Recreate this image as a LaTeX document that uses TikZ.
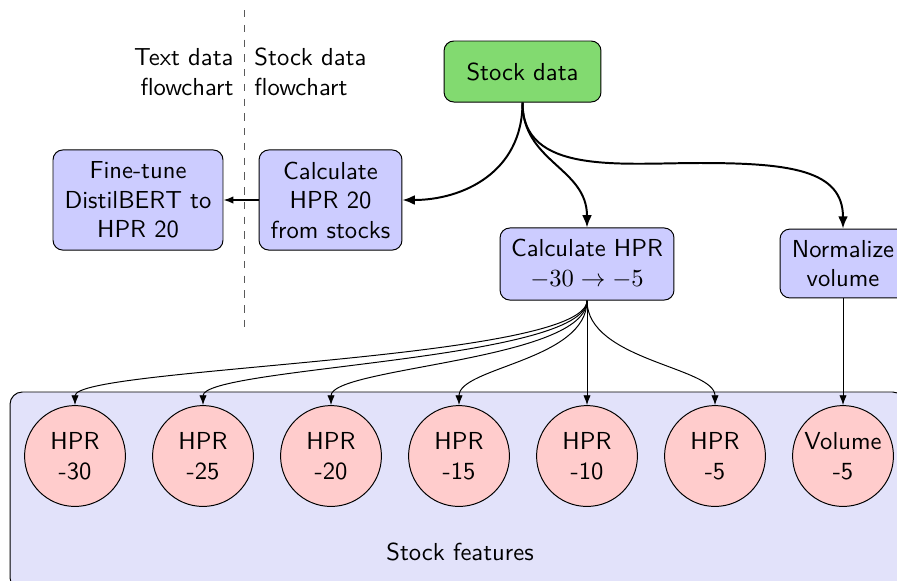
\documentclass[tikz,border=0pt]{standalone}
\usetikzlibrary{arrows.meta}
\renewcommand{\familydefault}{\sfdefault}
\definecolor{stockgreen}{RGB}{130,218,112}
\definecolor{boxblue}{RGB}{204,204,255}
\definecolor{bgblue}{RGB}{226,226,250}
\definecolor{circred}{RGB}{255,204,204}
\begin{document}
\begin{tikzpicture}[x=0.4065pt,y=-0.4065pt,
  procbox/.style={draw, rounded corners=4pt, fill=boxblue, align=center, inner sep=0pt},
  feat/.style={draw, circle, fill=circred, minimum size=41pt, inner sep=0pt, align=center},
  bigarrow/.style={-{Latex[length=5pt,width=4pt]}, thick},
  smallarrow/.style={-{Latex[length=4pt,width=3pt]}},
  lbl/.style={inner sep=0pt, font=\sffamily}]
\useasboundingbox (0,0) rectangle (897,580);
% background
\node[draw, rounded corners=5pt, fill=bgblue, minimum width=363.8pt, minimum height=80.5pt, inner sep=0pt] (bg) at (457.5,491) {};
\node[lbl] (sf) at (460,552) {Stock features};
% dashed divider
\coordinate (dtop) at (244,10);
\coordinate (dbot) at (244,328);
\draw[dashed, gray!70!black] (dtop) -- (dbot);
\node[lbl, align=right, anchor=east] (tl) at (234,72) {Text data\\flowchart};
\node[lbl, align=left, anchor=west] (sl) at (254,72) {Stock data\\flowchart};
% boxes
\node[draw, rounded corners=4pt, fill=stockgreen, minimum width=63.8pt, minimum height=24.8pt, inner sep=0pt] (stock) at (522.5,71.5) {Stock data};
\node[procbox, minimum width=58.1pt, minimum height=40.7pt] (hpr20) at (330.5,200) {Calculate\\HPR 20\\from stocks};
\node[procbox, minimum width=69.1pt, minimum height=40.7pt] (fine) at (138,200) {Fine-tune\\DistilBERT to\\HPR 20};
\node[procbox, minimum width=70.7pt, minimum height=29.3pt] (hpr) at (587,264) {Calculate HPR\\$-30\rightarrow-5$};
\node[procbox, minimum width=51.2pt, minimum height=28pt] (norm) at (843,263.5) {Normalize\\volume};
% circles
\node[feat] (c30) at (75,456) {HPR\\-30};
\node[feat] (c25) at (203,456) {HPR\\-25};
\node[feat] (c20) at (331,456) {HPR\\-20};
\node[feat] (c15) at (459,456) {HPR\\-15};
\node[feat] (c10) at (587,456) {HPR\\-10};
\node[feat] (c5) at (715,456) {HPR\\-5};
\node[feat] (vol) at (843,456) {Volume\\-5};
% arrows from stock data
\draw[bigarrow] (stock.south) .. controls +(0,70) and +(60,0) .. (hpr20.east);
\draw[bigarrow] (stock.south) .. controls +(0,60) and +(0,-60) .. (hpr.north);
\draw[bigarrow] (stock.south) .. controls (522,175) and (620,163) .. (700,163) .. controls (790,163) and (843,170) .. (norm.north);
\draw[smallarrow, semithick] (hpr20.west) -- (fine.east);
% arrows to features
\foreach \c in {c30,c25,c20,c15,c5}{
  \draw[smallarrow] (hpr.south) .. controls +(0,60) and +(0,-38) .. (\c.north);
}
\draw[smallarrow] (hpr.south) -- (c10.north);
\draw[smallarrow] (norm.south) -- (vol.north);
\end{tikzpicture}
\end{document}
